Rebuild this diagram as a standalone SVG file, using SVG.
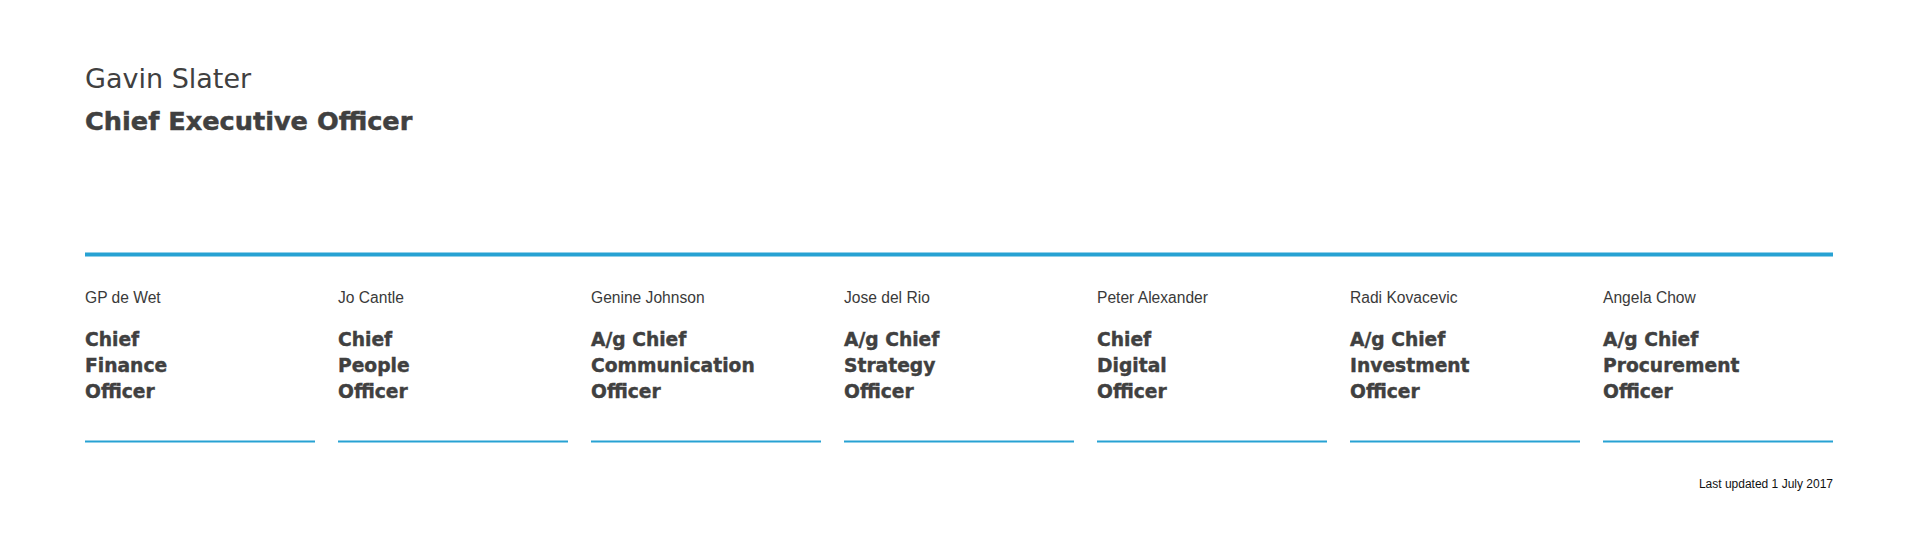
<svg xmlns="http://www.w3.org/2000/svg" width="1919" height="538" viewBox="0 0 1919 538">
<style>
.ceo-name{font-family:"DejaVu Sans",sans-serif;font-size:27px;fill:#404040}
.ceo-title{font-family:"DejaVu Sans",sans-serif;font-size:25.6px;font-weight:bold;fill:#404040;stroke:#404040;stroke-width:0.5}
.name{font-family:"Liberation Sans",Arial,sans-serif;font-size:15.6px;fill:#3a3a3a}
.title{font-family:"DejaVu Sans",sans-serif;font-size:18.7px;font-weight:bold;fill:#404040;stroke:#404040;stroke-width:0.4}
.bar{fill:#27a2d3}
.foot{font-family:"Liberation Sans",Arial,sans-serif;font-size:12px;fill:#111}
</style>
<rect width="1919" height="538" fill="#fff"/>
<g id="ceo">
<text class="ceo-name" x="85" y="88">Gavin Slater</text>
<text class="ceo-title" x="85" y="130">Chief Executive Officer</text>
</g>
<g id="connectors">
<rect class="bar" x="85" y="252.5" width="1748" height="4"/>
</g>
<g id="cfo">
<text class="name" x="85" y="303">GP de Wet</text>
<text class="title" x="85" y="346">Chief</text>
<text class="title" x="85" y="372">Finance</text>
<text class="title" x="85" y="398">Officer</text>
<rect class="bar" x="85" y="440.5" width="230" height="2"/>
</g>
<g id="cpo">
<text class="name" x="338" y="303">Jo Cantle</text>
<text class="title" x="338" y="346">Chief</text>
<text class="title" x="338" y="372">People</text>
<text class="title" x="338" y="398">Officer</text>
<rect class="bar" x="338" y="440.5" width="230" height="2"/>
</g>
<g id="cco">
<text class="name" x="591" y="303">Genine Johnson</text>
<text class="title" x="591" y="346">A/g Chief</text>
<text class="title" x="591" y="372">Communication</text>
<text class="title" x="591" y="398">Officer</text>
<rect class="bar" x="591" y="440.5" width="230" height="2"/>
</g>
<g id="cso">
<text class="name" x="844" y="303">Jose del Rio</text>
<text class="title" x="844" y="346">A/g Chief</text>
<text class="title" x="844" y="372">Strategy</text>
<text class="title" x="844" y="398">Officer</text>
<rect class="bar" x="844" y="440.5" width="230" height="2"/>
</g>
<g id="cdo">
<text class="name" x="1097" y="303">Peter Alexander</text>
<text class="title" x="1097" y="346">Chief</text>
<text class="title" x="1097" y="372">Digital</text>
<text class="title" x="1097" y="398">Officer</text>
<rect class="bar" x="1097" y="440.5" width="230" height="2"/>
</g>
<g id="cio">
<text class="name" x="1350" y="303">Radi Kovacevic</text>
<text class="title" x="1350" y="346">A/g Chief</text>
<text class="title" x="1350" y="372">Investment</text>
<text class="title" x="1350" y="398">Officer</text>
<rect class="bar" x="1350" y="440.5" width="230" height="2"/>
</g>
<g id="cpro">
<text class="name" x="1603" y="303">Angela Chow</text>
<text class="title" x="1603" y="346">A/g Chief</text>
<text class="title" x="1603" y="372">Procurement</text>
<text class="title" x="1603" y="398">Officer</text>
<rect class="bar" x="1603" y="440.5" width="230" height="2"/>
</g>
<text class="foot" x="1833" y="488" text-anchor="end">Last updated 1 July 2017</text>
</svg>
